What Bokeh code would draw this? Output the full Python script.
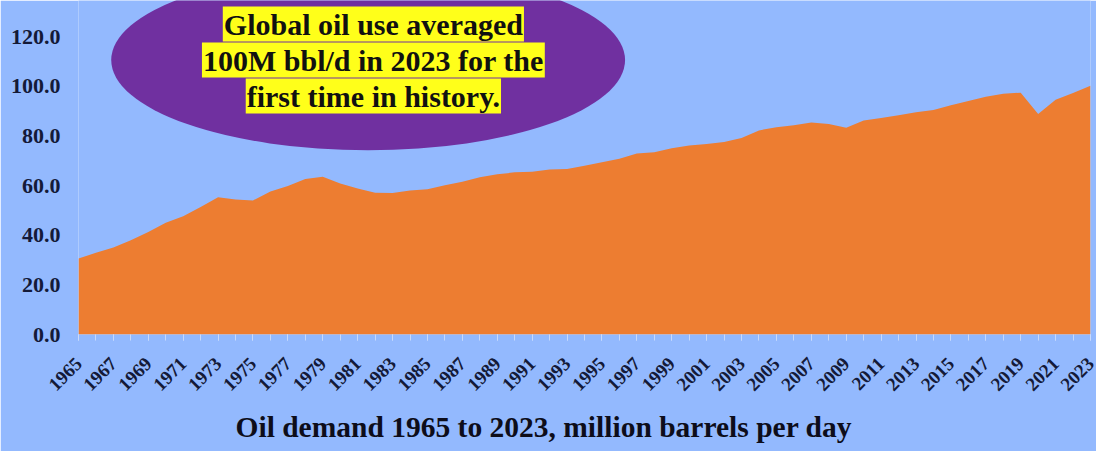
import math
from bokeh.plotting import figure
from bokeh.models import FixedTicker, NumeralTickFormatter, Label, Range1d, Title
from bokeh.embed import file_html
from bokeh.resources import INLINE

years = list(range(1965, 2024))
demand = [30.6, 32.9, 35.0, 38.0, 41.3, 45.0, 47.6, 51.3, 55.3, 54.4,
          54.0, 57.6, 59.8, 62.6, 63.5, 60.8, 58.8, 57.1, 57.0, 58.0,
          58.5, 60.1, 61.5, 63.3, 64.5, 65.3, 65.5, 66.4, 66.6, 68.0,
          69.4, 70.8, 72.9, 73.4, 75.0, 76.1, 76.7, 77.5, 79.1, 82.2,
          83.5, 84.3, 85.4, 84.8, 83.3, 86.2, 87.2, 88.3, 89.5, 90.4,
          92.3, 94.0, 95.7, 96.9, 97.4, 88.8, 94.5, 97.3, 100.2]
y_ticks = [0, 20, 40, 60, 80, 100, 120]
x_label_years = list(range(1965, 2024, 2))
callout_lines = ["Global oil use averaged", "100M bbl/d in 2023 for the", "first time in history."]
title_text = "Oil demand 1965 to 2023, million barrels per day"

BG = "#93B9FE"
ORANGE = "#ED7D31"
PURPLE = "#7030A0"
TXT = "#141a38"
FONT = "Liberation Serif"

p = figure(width=1096, height=451, output_backend="svg", toolbar_location=None,
           x_range=Range1d(1965, 2023), y_range=Range1d(0, 134.5),
           min_border_left=78, min_border_right=6, min_border_top=0, min_border_bottom=117)
p.background_fill_color = BG
p.border_fill_color = BG
p.outline_line_color = None
p.grid.visible = False

p.varea(x=years, y1=[0] * len(years), y2=demand, fill_color=ORANGE)

# callout ellipse
p.ellipse(x=[1981.6], y=[110.5], width=[29.45], height=[72.6], fill_color=PURPLE, line_color=None)
for txt, yy in zip(callout_lines, [125.0, 110.5, 96.0]):
    p.add_layout(Label(x=1981.9, y=yy, text=txt, text_align="center", text_baseline="middle",
                       text_font=FONT, text_font_style="bold", text_font_size="30px",
                       text_color="#111111", background_fill_color="#FFFF1A", padding=1))

# x axis
p.xaxis.ticker = FixedTicker(ticks=x_label_years, minor_ticks=years)
p.xaxis.major_label_orientation = math.pi / 4
p.xaxis.major_label_text_font = FONT
p.xaxis.major_label_text_font_style = "bold"
p.xaxis.major_label_text_font_size = "19px"
p.xaxis.major_label_text_color = TXT
p.xaxis.axis_line_color = None
p.xaxis.major_tick_line_color = "#c9dafc"
p.xaxis.minor_tick_line_color = "#c9dafc"
p.xaxis.major_tick_in = 0
p.xaxis.major_tick_out = 6
p.xaxis.minor_tick_in = 0
p.xaxis.minor_tick_out = 6
p.xaxis.major_label_standoff = 20

# y axis
p.yaxis.ticker = FixedTicker(ticks=y_ticks)
p.yaxis.formatter = NumeralTickFormatter(format="0.0")
p.yaxis.major_label_text_font = FONT
p.yaxis.major_label_text_font_style = "bold"
p.yaxis.major_label_text_font_size = "22px"
p.yaxis.major_label_text_color = TXT
p.yaxis.axis_line_color = None
p.yaxis.major_tick_line_color = None
p.yaxis.minor_tick_line_color = None
p.yaxis.major_label_standoff = 12

p.add_layout(Title(text=title_text, align="left", offset=157, standoff=18,
                   text_line_height=0.8, vertical_align="bottom",
                   text_font=FONT, text_font_style="bold", text_font_size="29.5px",
                   text_color="#0d0d1a"), "below")

open("out.html", "w").write(file_html(p, INLINE))
